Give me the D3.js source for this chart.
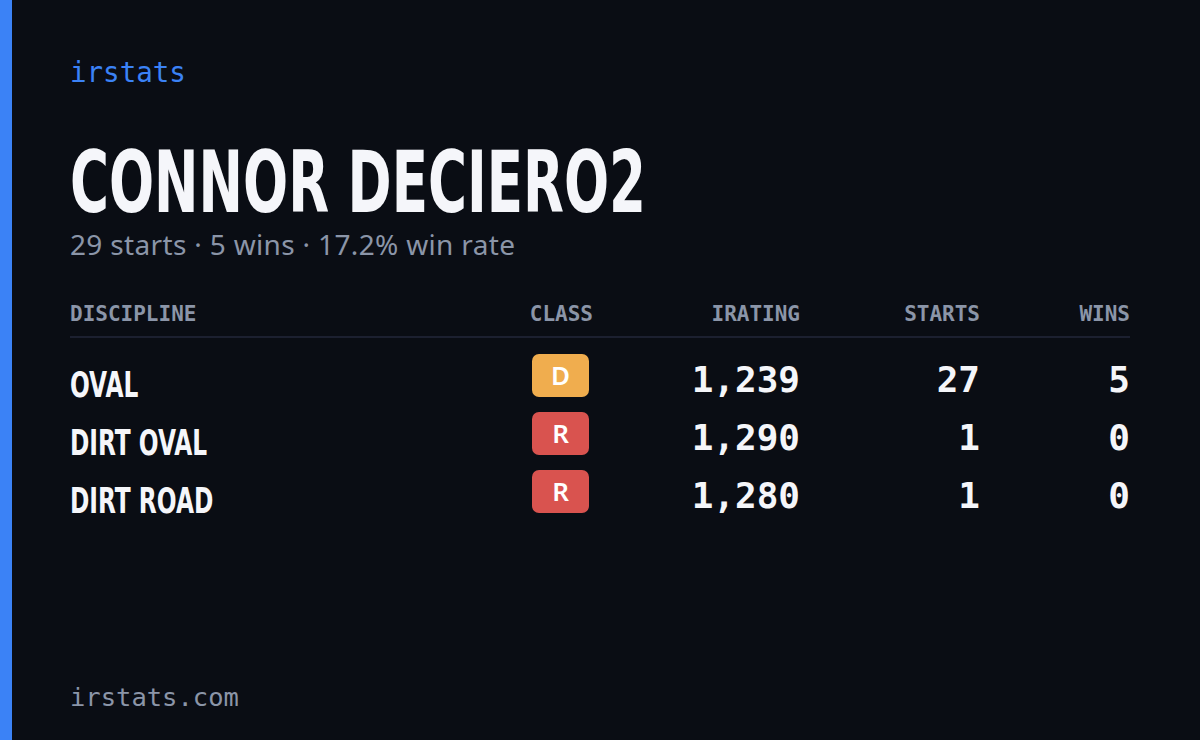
<!DOCTYPE html>
<html><head><meta charset="utf-8">
<script src="https://cdn.jsdelivr.net/npm/d3@7"></script>
<style>body{margin:0;background:#0a0d14}</style>
</head><body>
<script>
// Player stats card
var disciplines = ['OVAL', 'DIRT OVAL', 'DIRT ROAD'];
var classes = ['D', 'R', 'R'];
var iratings = [1239, 1290, 1280];
var starts = [27, 1, 1];
var wins = [5, 0, 0];
var columns = ['DISCIPLINE', 'CLASS', 'IRATING', 'STARTS', 'WINS'];
var classColor = { D: '#f0ad4e', R: '#d9534f' };

var W = 1200, H = 740;
var svg = d3.select('body').append('svg').attr('width', W).attr('height', H);
svg.append('rect').attr('width', W).attr('height', H).attr('fill', '#0a0d14');
svg.append('rect').attr('width', 12).attr('height', H).attr('fill', '#3b82f6');

var mono = '"DejaVu Sans Mono", monospace';
var cond = '"Liberation Sans Narrow", "DejaVu Sans Condensed", sans-serif';

svg.append('text').attr('x', 70).attr('y', 82).text('irstats')
  .attr('fill', '#3b82f6').attr('font-family', mono).attr('font-size', 27.5);

var totStarts = d3.sum(starts), totWins = d3.sum(wins);
svg.append('text').attr('x', 70).attr('y', 212).text('CONNOR DECIERO2')
  .attr('fill', '#f5f6fa').attr('font-family', cond).attr('font-weight', 'bold')
  .attr('font-size', 85).attr('textLength', 576).attr('lengthAdjust', 'spacingAndGlyphs');
svg.append('text').attr('x', 70).attr('y', 255)
  .text(totStarts + ' starts · ' + totWins + ' wins · ' + d3.format('.1%')(totWins / totStarts) + ' win rate')
  .attr('fill', '#8b95a8').attr('font-family', '"Noto Sans", sans-serif').attr('font-size', 28)
  .attr('textLength', 445).attr('lengthAdjust', 'spacing');

// column x positions and anchors
var colX = [70, 593, 800, 980, 1130];
var colAnchor = ['start', 'end', 'end', 'end', 'end'];
svg.selectAll('text.hdr').data(columns).join('text').attr('class', 'hdr')
  .attr('x', function (d, i) { return colX[i]; }).attr('y', 321)
  .attr('text-anchor', function (d, i) { return colAnchor[i]; })
  .attr('fill', '#8b95a8').attr('font-family', mono).attr('font-weight', 'bold')
  .attr('font-size', 21).text(function (d) { return d; });
svg.append('line').attr('x1', 70).attr('x2', 1130).attr('y1', 337).attr('y2', 337)
  .attr('stroke', '#1c2030').attr('stroke-width', 2);

var y = d3.scaleBand().domain(disciplines).range([347, 521]);
var rows = svg.selectAll('g.row').data(disciplines).join('g').attr('class', 'row')
  .attr('transform', function (d) { return 'translate(0,' + y(d) + ')'; });
rows.append('text').attr('transform', 'translate(70,50) scale(0.72,1)')
  .text(function (d) { return d; })
  .attr('fill', '#f5f6fa').attr('font-family', cond).attr('font-weight', 'bold')
  .attr('font-size', 36);
rows.append('rect').attr('x', 532).attr('y', 7).attr('width', 57).attr('height', 43).attr('rx', 7)
  .attr('fill', function (d, i) { return classColor[classes[i]]; });
rows.append('text').attr('x', 560.5).attr('y', 38).attr('text-anchor', 'middle')
  .text(function (d, i) { return classes[i]; })
  .attr('fill', '#fff').attr('font-family', '"Noto Sans", sans-serif').attr('font-weight', 600).attr('font-size', 26);
var fmt = d3.format(',');
[iratings, starts, wins].forEach(function (arr, k) {
  rows.append('text').attr('x', colX[k + 2]).attr('y', 45).attr('text-anchor', 'end')
    .text(function (d, i) { return fmt(arr[i]); })
    .attr('fill', '#f5f6fa').attr('font-family', mono).attr('font-weight', 'bold').attr('font-size', 36);
});

svg.append('text').attr('x', 70).attr('y', 706).text('irstats.com')
  .attr('fill', '#8b95a8').attr('font-family', mono).attr('font-size', 25.5);
</script>
</body></html>
